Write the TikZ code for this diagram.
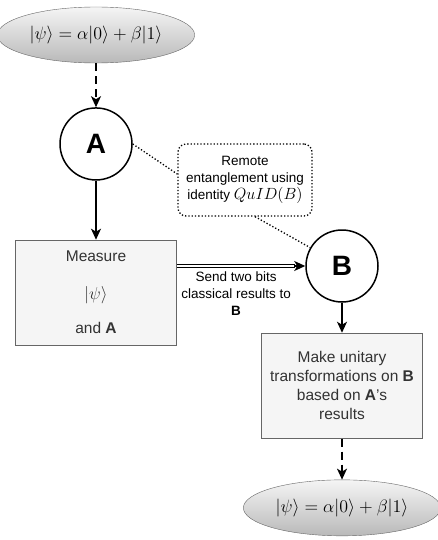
\RequirePackage{fix-cm}
\documentclass[tikz,border=0pt]{standalone}
\usepackage[no-math]{fontspec}
\setmainfont{Liberation Sans}
\usepackage{amsmath}
\usepackage{graphicx}
\usetikzlibrary{shapes.geometric, arrows.meta, positioning, calc}

\definecolor{boxfill}{HTML}{F5F5F5}
\definecolor{boxline}{HTML}{666666}
\definecolor{boxtext}{HTML}{333333}

\newcommand{\bigmath}[1]{\scalebox{1.12}{$#1$}}

\begin{document}
\begin{tikzpicture}[x=1pt, y=1pt,
    state/.style={ellipse, draw=boxline, top color=gray!8, bottom color=gray!55, minimum width=180pt, minimum height=56pt, font=\fontsize{16}{19}\selectfont},
    party/.style={circle, draw=black, line width=1.5pt, fill=white, minimum size=72pt, inner sep=0pt, font=\fontsize{28}{30}\selectfont\bfseries},
    box/.style={rectangle, draw=boxline, line width=0.9pt, fill=boxfill, text=boxtext, minimum width=161pt, minimum height=105pt, align=center, font=\fontsize{15.5}{19}\selectfont},
    note/.style={rectangle, rounded corners=8pt, draw=black, dotted, line width=1.3pt, minimum width=134pt, minimum height=72pt, align=center, inner sep=2pt, font=\fontsize{13.5}{17}\selectfont},
    arrow/.style={-{Stealth[length=11pt, width=10pt, inset=3pt]}, line width=1.5pt},
    dasharrow/.style={arrow, dash pattern=on 8pt off 5pt},
    link/.style={dotted, line width=1.3pt},
    classical/.style={double, double distance=2.2pt, line width=1.1pt}
]
\useasboundingbox (0,0) rectangle (438,-540);

% Define nodes
\node[state] (psiin) at (96,-35) {\bigmath{|\psi\rangle = \alpha|0\rangle + \beta|1\rangle}};
\node[party, below=44pt of psiin] (A) {A};
\node[box, below=59pt of A] (measure) {Measure\\[19pt] \bigmath{|\psi\rangle}\\[15pt] and \textbf{A}};
\node[party] (B) at (342,-266) {B};
\node[note] (remote) at (245,-180) {Remote\\ entanglement using\\ identity \scalebox{1.2}{$QuID(B)$}};
\node[box, below=30pt of B] (unitary) {Make unitary\\ transformations on \textbf{B}\\ based on \textbf{A}'s\\ results};
\node[state, below=41pt of unitary] (psiout) {\bigmath{|\psi\rangle = \alpha|0\rangle + \beta|1\rangle}};

% Draw arrows
\draw[dasharrow] (psiin) -- (A);
\draw[arrow] (A) -- (measure);
\coordinate (tip) at ([xshift=-10pt]B.west);
\draw[classical] (measure.east |- B.west) -- (tip)
    node[midway, below=2pt, align=center, font=\fontsize{13.5}{17}\selectfont] (send) {Send two bits\\ classical results to\\ \textbf{B}};
\draw[arrow, shorten <=-1pt] (tip) -- (B.west);
\draw[arrow] (B) -- (unitary);
\draw[dasharrow] (unitary) -- (psiout);

% Entanglement links
\draw[link] (A.east) -- (remote.175);
\draw[link] ([xshift=10pt]remote.south) -- (B.150);

\end{tikzpicture}
\end{document}
